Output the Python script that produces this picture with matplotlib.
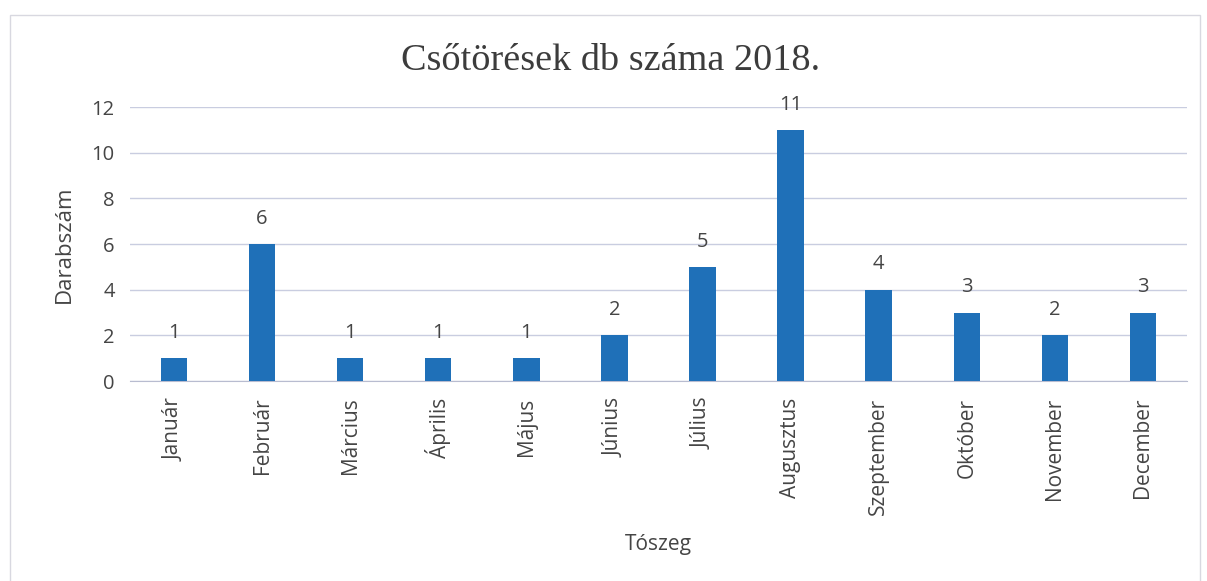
import matplotlib.pyplot as plt
import matplotlib.patches as patches

# monthly pipe breaks, 2018
months = ["Január", "Február", "Március", "Április", "Május", "Június",
          "Július", "Augusztus", "Szeptember", "Október", "November", "December"]
counts = [1, 6, 1, 1, 1, 2, 5, 11, 4, 3, 2, 3]
yticks = [0, 2, 4, 6, 8, 10, 12]

bar_col = "#1f70b8"
txt_col = "#454545"
grid_col = "#c9cde0"

fig = plt.figure(figsize=(12.07, 5.81), dpi=100)
ax = fig.add_axes([0.1077, 0.3442, 0.8757, 0.4716])

x = range(len(months))
ax.bar(x, counts, width=0.3, color=bar_col, zorder=3)
for i, v in zip(x, counts):
    ax.annotate(str(v), (i, v), xytext=(0, 11), textcoords="offset points",
                ha="center", va="bottom", fontsize=14.5, color=txt_col,
                family="Open Sans")

ax.set_xlim(-0.5, len(months) - 0.5)
ax.set_ylim(0, 12)
ax.set_yticks(yticks)
ax.set_xticks(list(x))
ax.set_xticklabels(months, rotation=90, family="Open Sans", fontsize=15, color=txt_col)
for lab in ax.get_yticklabels():
    lab.set_family("Open Sans")
    lab.set_fontsize(14.5)
    lab.set_color(txt_col)
ax.tick_params(axis="x", length=0, pad=12)
ax.tick_params(axis="y", length=0, pad=11)
ax.yaxis.grid(True, color=grid_col, linewidth=1.0, zorder=0)
for s in ["top", "right", "left"]:
    ax.spines[s].set_visible(False)
ax.spines["bottom"].set_color("#b8bcd0")

ax.set_ylabel("Darabszám", family="Open Sans", fontsize=16, color=txt_col, labelpad=12)
ax.set_xlabel("Tószeg", family="Open Sans", fontsize=15, color=txt_col, labelpad=14)

fig.text(0.506, 0.895, "Csőtörések db száma 2018.", ha="center", va="center",
         family="Liberation Serif", fontsize=27.5, color="#3c3c3c")

# faint frame of the scanned chart area
fig.add_artist(patches.Rectangle((0.008, -0.01), 0.986, 0.985, transform=fig.transFigure,
                                 fill=False, ec="#d8d8e0", lw=1.0))

fig.savefig("out.png", dpi=100)
